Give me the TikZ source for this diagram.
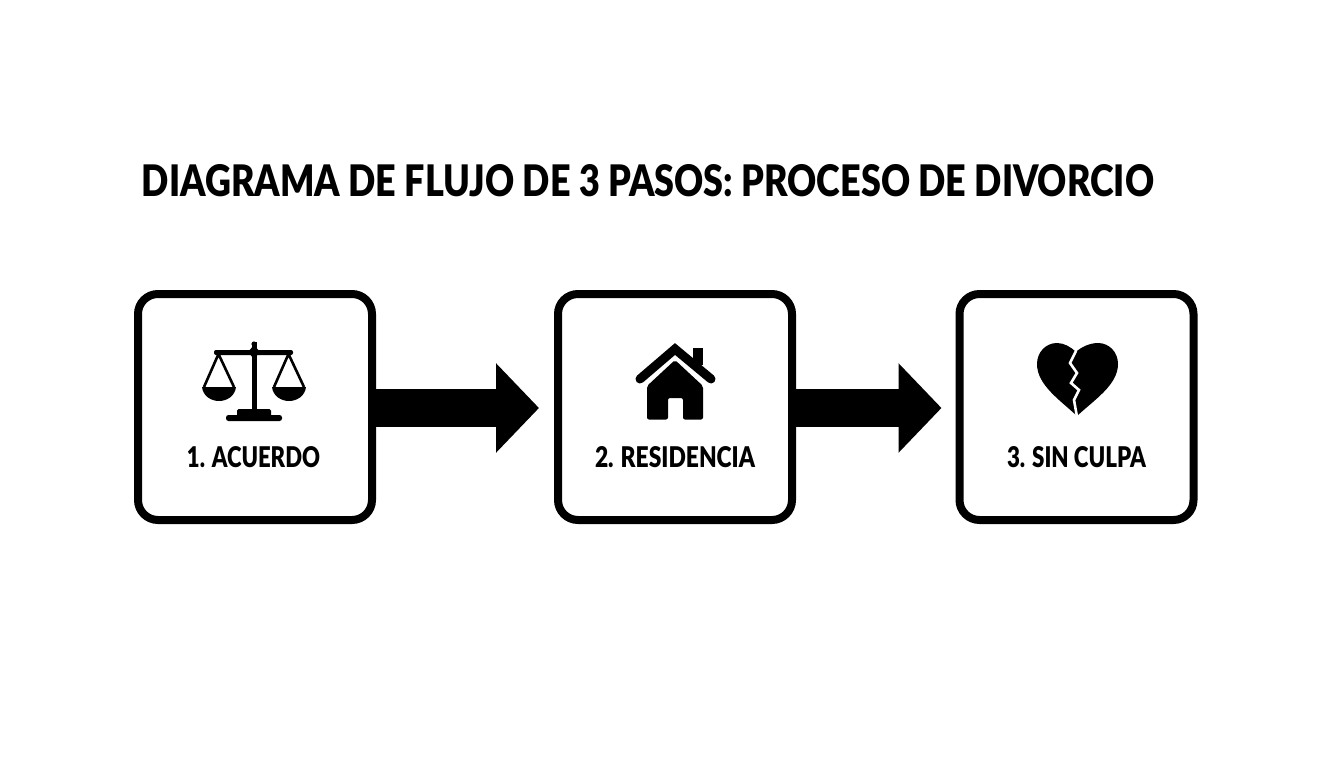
\documentclass[tikz,border=0pt]{standalone}
\usepackage{fontspec}
\setmainfont{Lato Black}
\usetikzlibrary{arrows.meta}
\tikzset{
  stepbox/.style={draw=black,fill=white,line width=8pt,rounded corners=20pt,minimum width=234pt,minimum height=226pt,inner sep=0pt,outer sep=0pt},
  flow/.style={draw=black,line width=38pt,-{Triangle[length=43pt,width=87pt]}},
  txt/.style={inner sep=0pt,outer sep=0pt,text=black}
}
\newcommand{\fit}[3]{\resizebox{#1pt}{#2pt}{#3}}
\begin{document}
\begin{tikzpicture}[x=1pt,y=-1pt]
\useasboundingbox (0,0) rectangle (1344,768);
\fill[white] (0,0) rectangle (1344,768);
\node[txt] (title) at (648,181) {\fit{1012}{32}{DIAGRAMA DE FLUJO DE 3 PASOS: PROCESO DE DIVORCIO}};
\node[stepbox] (b1) at (255,407) {};
\node[stepbox] (b2) at (675,407) {};
\node[stepbox] (b3) at (1076.5,407) {};
\draw[flow,shorten >=19pt] ([yshift=-1pt]b1.east) -- ([yshift=-1pt]b2.west);
\draw[flow,shorten >=18pt] ([yshift=-1pt]b2.east) -- ([yshift=-1pt]b3.west);
\node[txt] (l1) at (253.5,457.5) {\fit{133}{21}{1. ACUERDO}};
\node[txt] (l2) at (675,457.5) {\fit{160}{21}{2. RESIDENCIA}};
\node[txt] (l3) at (1076.5,457.5) {\fit{139}{21}{3. SIN CULPA}};
% scales
\fill[black,rounded corners=2pt] (214,350) rectangle (293,355);
\fill[black] (251.5,342) rectangle (256.5,410);
\fill[black] (254,345) -- (260,352) -- (254,359) -- (248,352) -- cycle;
\fill[black] (254,344) circle (2.6);
\fill[black,rounded corners=1.5pt] (237,409) rectangle (271,417);
\fill[black,rounded corners=2.5pt] (226,415) rectangle (282,421);
\draw[black,line width=2.6pt,line join=round] (204,387) -- (218.5,354) -- (234,387);
\draw[black,line width=2.6pt,line join=round] (274,387) -- (288.5,354) -- (304,387);
\fill[black] (202,387) .. controls (203,396) and (211,401) .. (219,401) .. controls (227,401) and (235,396) .. (236,387) -- cycle;
\fill[black] (272,387) .. controls (273,396) and (281,401) .. (289,401) .. controls (297,401) and (305,396) .. (306,387) -- cycle;
% house
\fill[black] (693,348) rectangle (703,365);
\fill[white] (675,355) -- (715,390) -- (635,390) -- cycle;
\draw[black,line width=9pt,line cap=round,line join=miter] (640,379) -- (675,349) -- (711,379);
\fill[black,rounded corners=2pt] (675,360) -- (703,386) -- (703,419.5) -- (683,419.5) -- (683,398) -- (668,398) -- (668,419.5) -- (647,419.5) -- (647,386) -- cycle;
% heart
\fill[black] (1076,352) .. controls (1071,347) and (1064,343) .. (1057,343) .. controls (1046,343) and (1037,352) .. (1037,364) .. controls (1037,385) and (1060,400) .. (1077,416) .. controls (1094,400) and (1118,385) .. (1118,364) .. controls (1118,352) and (1109,343) .. (1098,343) .. controls (1090,343) and (1081,347) .. (1076,352) -- cycle;
\draw[white,line width=2.6pt,line join=miter] (1076,351) -- (1070,363) -- (1077,373) -- (1071,383) -- (1079,390) -- (1074,400) -- (1077,417);
\end{tikzpicture}
\end{document}
